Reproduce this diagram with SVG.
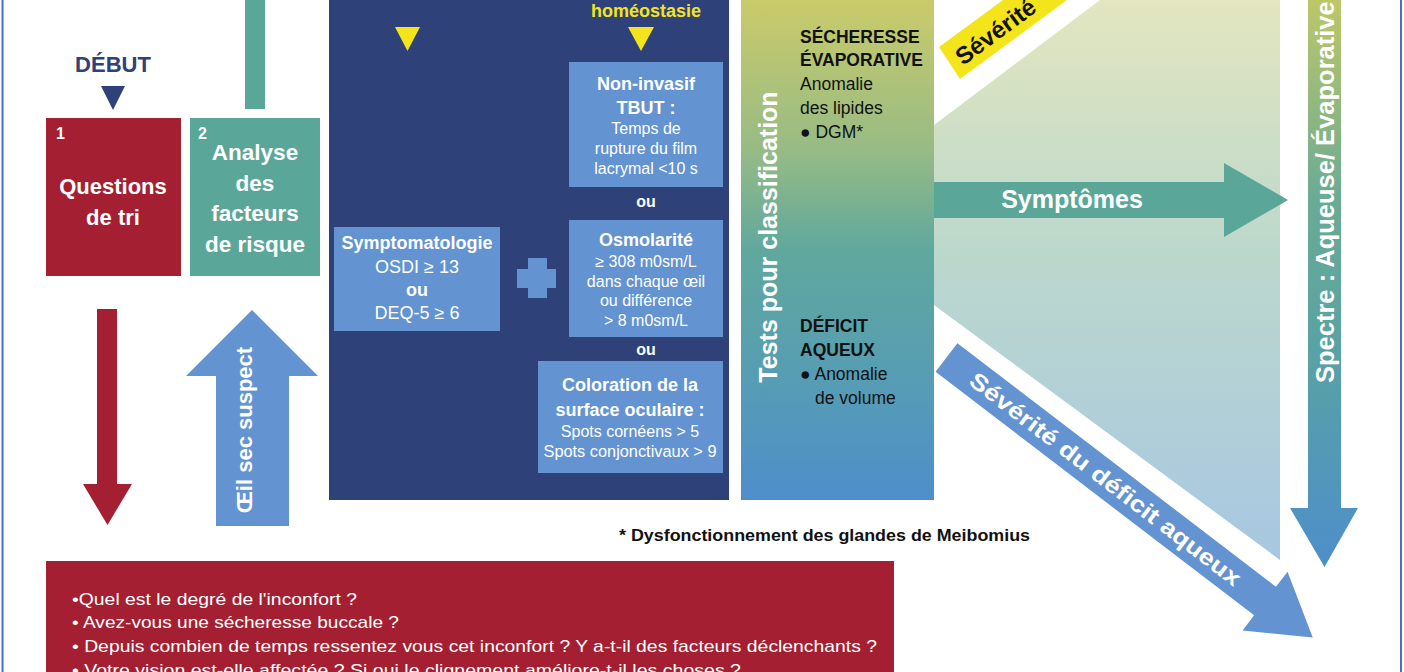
<svg xmlns="http://www.w3.org/2000/svg" width="1404" height="672" viewBox="0 0 1404 672">
<defs>
<style>
text{font-family:"Liberation Sans",Arial,sans-serif}
.w{fill:#fff}
.b{font-weight:bold}
.k{fill:#111}
.c{text-anchor:middle}
.s16{font-size:16px}
.s18{font-size:18px}
.s22{font-size:22px}
.red{fill:#a41f31}
.teal{fill:#5aa79a}
.navy{fill:#2e4178}
.lb{fill:#6393d0}
.yel{fill:#f4e41c}
</style>
<linearGradient id="gPanel" x1="0" y1="0" x2="0" y2="500" gradientUnits="userSpaceOnUse">
<stop offset="0" stop-color="#cacb6a"/>
<stop offset="0.3" stop-color="#97bb85"/>
<stop offset="0.5" stop-color="#60a89d"/>
<stop offset="0.75" stop-color="#579db3"/>
<stop offset="1" stop-color="#4f8ecb"/>
</linearGradient>
<linearGradient id="gLight" x1="0" y1="0" x2="0" y2="560" gradientUnits="userSpaceOnUse">
<stop offset="0" stop-color="#e3e6bf"/>
<stop offset="0.45" stop-color="#bcd8cc"/>
<stop offset="1" stop-color="#a7c7e2"/>
</linearGradient>
<linearGradient id="gSpec" x1="0" y1="0" x2="0" y2="567" gradientUnits="userSpaceOnUse">
<stop offset="0" stop-color="#bdc768"/>
<stop offset="0.35" stop-color="#6aab94"/>
<stop offset="0.6" stop-color="#5aa3a2"/>
<stop offset="1" stop-color="#4e8ecb"/>
</linearGradient>
</defs>
<rect width="1404" height="672" fill="#fff"/>
<line x1="2.5" y1="0" x2="2.5" y2="672" stroke="#4a6fbf" stroke-width="2"/>
<line x1="1401" y1="0" x2="1401" y2="672" stroke="#4a6fbf" stroke-width="2"/>

<g id="light-area">
<polygon points="1100,0 1280,0 1280,560 934,305 934,125" fill="url(#gLight)"/>
</g>

<g id="debut">
<text x="113" y="72" class="b s22 c" fill="#2e4178" font-size="21.5">DÉBUT</text>
<polygon points="101,86 125,86 113,110" fill="#2e4178"/>
</g>

<g id="node-1">
<rect x="46" y="118" width="135" height="158" class="red"/>
<text x="56" y="139" class="w b" font-size="16">1</text>
<text x="113" y="194" class="w b s22 c">Questions</text>
<text x="113" y="225" class="w b s22 c">de tri</text>
</g>

<g id="node-2">
<rect x="190" y="118" width="130" height="158" class="teal"/>
<text x="198" y="139" class="w b" font-size="16">2</text>
<text x="255" y="160" class="w b c" font-size="22.5">Analyse</text>
<text x="255" y="191" class="w b c" font-size="22.5">des</text>
<text x="255" y="221" class="w b c" font-size="22.5">facteurs</text>
<text x="255" y="252" class="w b c" font-size="22.5">de risque</text>
</g>

<g id="node-questions">
<rect x="46" y="561" width="848" height="111" class="red"/>
<text x="72" y="605" class="w" font-size="17" textLength="285" lengthAdjust="spacingAndGlyphs">•Quel est le degré de l'inconfort ?</text>
<text x="72" y="628" class="w" font-size="17" textLength="327" lengthAdjust="spacingAndGlyphs">• Avez-vous une sécheresse buccale ?</text>
<text x="72" y="652" class="w" font-size="17" textLength="805" lengthAdjust="spacingAndGlyphs">• Depuis combien de temps ressentez vous cet inconfort ? Y a-t-il des facteurs déclenchants ?</text>
<text x="72" y="676" class="w" font-size="17" textLength="669" lengthAdjust="spacingAndGlyphs">• Votre vision est-elle affectée ? Si oui le clignement améliore-t-il les choses ?</text>
</g>

<g id="node-homeostasie">
<rect x="329" y="0" width="400" height="500" class="navy"/>
<text x="646" y="17" class="b s18 c" fill="#f4e41c">homéostasie</text>
<polygon points="395,27 420,27 407.5,51" class="yel"/>
<polygon points="628,27 654,27 641,51" class="yel"/>
</g>

<g id="node-tbut">
<rect x="569" y="62" width="154" height="125" class="lb"/>
<text x="646" y="90" class="w b s18 c">Non-invasif</text>
<text x="646" y="114" class="w b s18 c">TBUT :</text>
<text x="646" y="134" class="w s16 c">Temps de</text>
<text x="646" y="154" class="w s16 c">rupture du film</text>
<text x="646" y="174" class="w s16 c">lacrymal &lt;10 s</text>
</g>
<text x="646" y="207" class="w b s16 c">ou</text>

<g id="node-osmolarite">
<rect x="569" y="220" width="154" height="117" class="lb"/>
<text x="646" y="246" class="w b s18 c">Osmolarité</text>
<text x="646" y="267" class="w s16 c">≥ 308 m0sm/L</text>
<text x="646" y="287" class="w s16 c">dans chaque œil</text>
<text x="646" y="306" class="w s16 c">ou différence</text>
<text x="646" y="326" class="w s16 c">&gt; 8 m0sm/L</text>
</g>
<text x="646" y="355" class="w b s16 c">ou</text>

<g id="node-coloration">
<rect x="538" y="361" width="185" height="112" class="lb"/>
<text x="630" y="391" class="w b s18 c">Coloration de la</text>
<text x="630" y="416" class="w b s18 c">surface oculaire :</text>
<text x="630" y="437" class="w s16 c">Spots cornéens &gt; 5</text>
<text x="630" y="457" class="w s16 c" textLength="173" lengthAdjust="spacingAndGlyphs">Spots conjonctivaux &gt; 9</text>
</g>

<g id="node-symptomatologie">
<rect x="334" y="227" width="166" height="104" class="lb"/>
<text x="417" y="249" class="w b s18 c">Symptomatologie</text>
<text x="417" y="273" class="w s18 c">OSDI ≥ 13</text>
<text x="417" y="296" class="w b s18 c">ou</text>
<text x="417" y="319" class="w s18 c">DEQ-5 ≥ 6</text>
</g>

<g id="plus">
<rect x="517" y="269" width="39" height="19" class="lb"/>
<rect x="528" y="258" width="19" height="40" class="lb"/>
</g>

<g id="node-tests">
<rect x="741" y="0" width="193" height="500" fill="url(#gPanel)"/>
<text transform="translate(777,237) rotate(-90)" class="w b c" font-size="25">Tests pour classification</text>
<text x="800" y="43" class="k b" font-size="17.5">SÉCHERESSE</text>
<text x="800" y="66" class="k b" font-size="17.5">ÉVAPORATIVE</text>
<text x="800" y="90" class="k" font-size="17.5">Anomalie</text>
<text x="800" y="114" class="k" font-size="17.5">des lipides</text>
<text x="800" y="138" class="k" font-size="17.5">● DGM*</text>
<text x="800" y="332" class="k b" font-size="17.5">DÉFICIT</text>
<text x="800" y="356" class="k b" font-size="17.5">AQUEUX</text>
<text x="800" y="380" class="k" font-size="17.5">● Anomalie</text>
<text x="815" y="404" class="k" font-size="17.5">de volume</text>
</g>

<text x="619" y="541" class="k b" font-size="16" textLength="411" lengthAdjust="spacingAndGlyphs">* Dysfonctionnement des glandes de Meibomius</text>

<g id="connectors">
<rect x="245" y="0" width="20" height="109" class="teal"/>
<polygon points="97,309 117,309 117,484 132,484 107.5,525 83,484 97,484" class="red"/>
<g id="arrow-oeil">
<polygon points="252,310 318,376 289,376 289,526 216,526 216,376 186,376" class="lb"/>
<text transform="translate(252,430) rotate(-90)" class="w b c" font-size="22">Œil sec suspect</text>
</g>
<g id="arrow-symptomes">
<polygon points="934,182 1224,182 1224,163 1288,200 1224,237 1224,218 934,218" class="teal"/>
<text x="1072" y="208" class="w b c" font-size="25">Symptômes</text>
</g>
<g id="arrow-spectre">
<polygon points="1308,0 1341,0 1341,508 1358,508 1324.5,567 1290,508 1308,508" fill="url(#gSpec)"/>
<text transform="translate(1334,383) rotate(-90)" class="w b" font-size="25.5">Spectre : Aqueuse/ Évaporative</text>
</g>
<g id="arrow-severite-evap">
<polygon points="939,47 960,79 1067,0 1003,0" class="yel"/>
<text transform="translate(963,66) rotate(-36.5)" class="k b" font-size="24">Sévérité</text>
</g>
<g id="arrow-severite-aqueux" transform="translate(946.5,357.5) rotate(37.4)">
<polygon points="0,-18 401,-18 401,-37 461,0 401,37 401,18 0,18" class="lb"/>
<text x="200" y="8" class="w b c" font-size="23" textLength="335" lengthAdjust="spacingAndGlyphs">Sévérité du déficit aqueux</text>
</g>
</g>
</svg>
